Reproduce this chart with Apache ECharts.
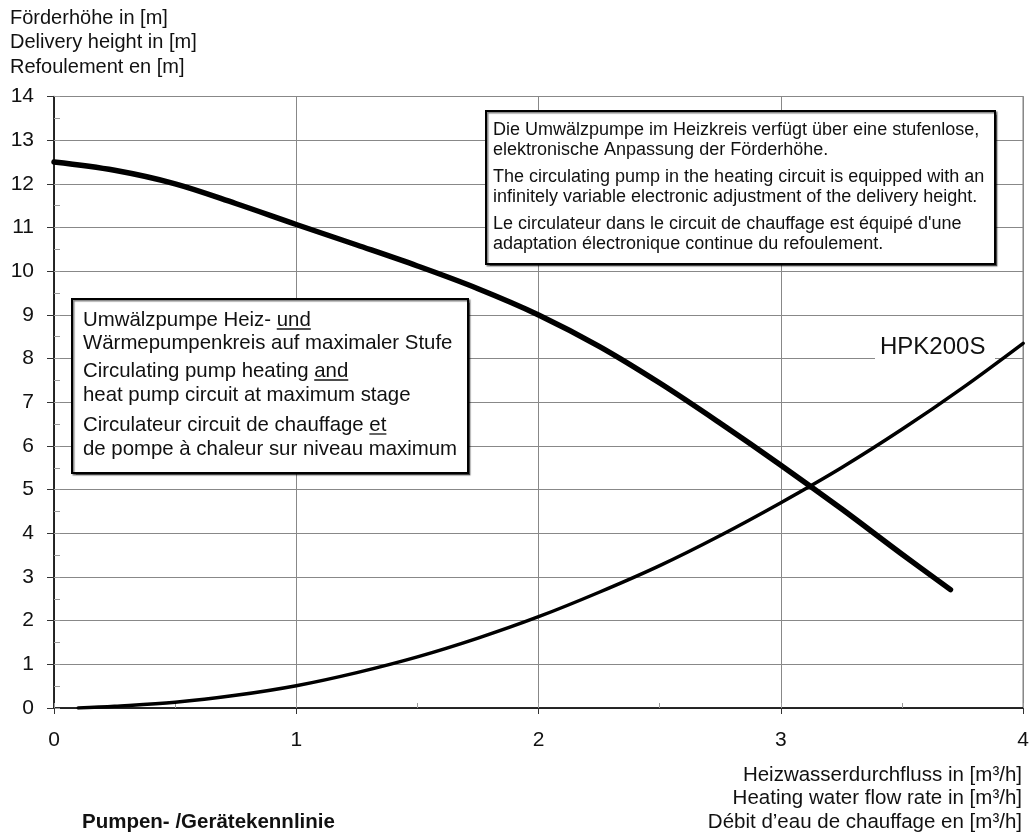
<!DOCTYPE html>
<html>
<head>
<meta charset="utf-8">
<title>Pumpen- /Gerätekennlinie HPK200S</title>
<script src="https://cdn.jsdelivr.net/npm/echarts@6/dist/echarts.min.js"></script>
<style>
  html, body { margin: 0; padding: 0; background: #fff; }
  #chart { width: 1032px; height: 836px; }
</style>
</head>
<body>
<div id="chart"></div>
<script>
// flow rate in m³/h, head in m
const flowTicks = [0, 1, 2, 3, 4];
const headTicks = [0, 1, 2, 3, 4, 5, 6, 7, 8, 9, 10, 11, 12, 13, 14];

// pump curve (thick line)
const pumpFlow = [0, 0.25, 0.5, 0.75, 1, 1.25, 1.5, 1.75, 2, 2.25, 2.5, 2.75, 3, 3.25, 3.5, 3.7];
const pumpHead = [12.5, 12.31, 12.0, 11.55, 11.07, 10.6, 10.12, 9.6, 9.0, 8.28, 7.44, 6.52, 5.56, 4.56, 3.52, 2.71];

// device curve HPK200S (thin line)
const deviceFlow = [0.1, 0.25, 0.5, 0.75, 1, 1.25, 1.5, 1.75, 2, 2.25, 2.5, 2.75, 3, 3.25, 3.5, 3.75, 4];
const deviceHead = [0, 0.04, 0.13, 0.29, 0.51, 0.81, 1.17, 1.6, 2.09, 2.65, 3.26, 3.95, 4.7, 5.5, 6.38, 7.33, 8.35];

const yTitle = ['Förderhöhe in [m]', 'Delivery height in [m]', 'Refoulement en [m]'];
const xTitle = ['Heizwasserdurchfluss in [m³/h]', 'Heating water flow rate in [m³/h]', 'Débit d’eau de chauffage en [m³/h]'];
const footLabel = 'Pumpen- /Gerätekennlinie';
const curveLabel = 'HPK200S';

const noteRight = [
  'Die Umwälzpumpe im Heizkreis verfügt über eine stufenlose,',
  'elektronische Anpassung der Förderhöhe.',
  'The circulating pump in the heating circuit is equipped with an',
  'infinitely variable electronic adjustment of the delivery height.',
  'Le circulateur dans le circuit de chauffage est équipé d\'une',
  'adaptation électronique continue du refoulement.'
];
// [text before underlined word, underlined word] or plain line
const noteLeft = [
  ['Umwälzpumpe Heiz- ', 'und'],
  ['Wärmepumpenkreis auf maximaler Stufe'],
  ['Circulating pump heating ', 'and'],
  ['heat pump circuit at maximum stage'],
  ['Circulateur circuit de chauffage ', 'et'],
  ['de pompe à chaleur sur niveau maximum']
];

const FONT = '"Liberation Sans", Arial, Helvetica, sans-serif';
const measure = document.createElement('canvas').getContext('2d');
function textWidth(str, size) {
  measure.font = size + 'px ' + FONT;
  return measure.measureText(str).width;
}

function zip(xs, ys) {
  return xs.map((x, i) => [x, ys[i]]);
}

const graphics = [];

// y axis title
yTitle.forEach((t, i) => {
  graphics.push({
    type: 'text', z: 100,
    style: { text: t, x: 10, y: 18 + i * 24.5, font: '20px ' + FONT, fill: '#111', verticalAlign: 'middle' }
  });
});

// x axis title
xTitle.forEach((t, i) => {
  graphics.push({
    type: 'text', z: 100,
    style: { text: t, x: 1022, y: 775 + i * 23.5, font: '20.5px ' + FONT, fill: '#111', textAlign: 'right', verticalAlign: 'middle' }
  });
});

graphics.push({
  type: 'text', z: 100,
  style: { text: footLabel, x: 82, y: 822, font: 'bold 20.5px ' + FONT, fill: '#111', verticalAlign: 'middle' }
});

// curve label with white patch over the gridline
graphics.push({
  type: 'rect', z: 90,
  shape: { x: 875, y: 334, width: 120, height: 28 },
  style: { fill: '#fff' }
});
graphics.push({
  type: 'text', z: 100,
  style: { text: curveLabel, x: 880, y: 347, font: '24px ' + FONT, fill: '#111', verticalAlign: 'middle' }
});

// right note box
graphics.push({
  type: 'rect', z: 95,
  shape: { x: 486, y: 111, width: 509, height: 153 },
  style: { fill: '#fff', stroke: '#000', lineWidth: 2, shadowColor: 'rgba(0,0,0,0.5)', shadowOffsetX: 1.5, shadowOffsetY: 1.5, shadowBlur: 1 }
});
const rightRows = [130, 150, 177, 197, 224, 244];
noteRight.forEach((t, i) => {
  graphics.push({
    type: 'text', z: 100,
    style: { text: t, x: 493, y: rightRows[i], font: '18px ' + FONT, fill: '#111', verticalAlign: 'middle' }
  });
});

// left note box
graphics.push({
  type: 'rect', z: 95,
  shape: { x: 72, y: 299, width: 396, height: 174 },
  style: { fill: '#fff', stroke: '#000', lineWidth: 2, shadowColor: 'rgba(0,0,0,0.5)', shadowOffsetX: 1.5, shadowOffsetY: 1.5, shadowBlur: 1 }
});
const leftRows = [320, 343.5, 371, 395, 425, 449];
const leftSize = 20.4;
noteLeft.forEach((row, i) => {
  const line = row.join('');
  graphics.push({
    type: 'text', z: 100,
    style: { text: line, x: 83, y: leftRows[i], font: leftSize + 'px ' + FONT, fill: '#111', verticalAlign: 'middle' }
  });
  if (row.length > 1) {
    const x0 = 83 + textWidth(row[0], leftSize);
    const x1 = x0 + textWidth(row[1], leftSize);
    graphics.push({
      type: 'line', z: 100,
      shape: { x1: x0, y1: leftRows[i] + 9, x2: x1, y2: leftRows[i] + 9 },
      style: { stroke: '#111', lineWidth: 1.3 }
    });
  }
});

const chart = echarts.init(document.getElementById('chart'), null, { renderer: 'canvas' });

chart.setOption({
  backgroundColor: '#fff',
  animation: false,
  textStyle: { fontFamily: FONT },
  grid: {
    left: 54, right: 5, top: 96.5, bottom: 128,
    show: true, borderColor: '#444', borderWidth: 1
  },
  xAxis: [
    {
      type: 'value', min: flowTicks[0], max: flowTicks[flowTicks.length - 1], interval: 1,
      position: 'bottom',
      axisLine: { show: true, lineStyle: { color: '#000', width: 1.5 } },
      axisTick: { show: true, inside: false, length: 6, lineStyle: { color: '#333' } },
      axisLabel: { fontSize: 21, color: '#111', margin: 22 },
      splitLine: { show: true, lineStyle: { color: '#888', width: 1 } }
    },
    {
      type: 'value', min: flowTicks[0], max: flowTicks[flowTicks.length - 1], interval: 0.5,
      position: 'bottom',
      axisLine: { show: false },
      axisTick: { show: true, inside: true, length: 5, lineStyle: { color: '#999' } },
      axisLabel: { show: false },
      splitLine: { show: false }
    }
  ],
  yAxis: [
    {
      type: 'value', min: headTicks[0], max: headTicks[headTicks.length - 1], interval: 1,
      position: 'left',
      axisLine: { show: true, lineStyle: { color: '#000', width: 1.5 } },
      axisTick: { show: true, inside: false, length: 7, lineStyle: { color: '#333' } },
      axisLabel: { fontSize: 21, color: '#111', margin: 20 },
      splitLine: { show: true, lineStyle: { color: '#888', width: 1 } }
    },
    {
      type: 'value', min: headTicks[0], max: headTicks[headTicks.length - 1], interval: 0.5,
      position: 'left',
      axisLine: { show: false },
      axisTick: { show: true, inside: true, length: 6, lineStyle: { color: '#999' } },
      axisLabel: { show: false },
      splitLine: { show: false }
    }
  ],
  series: [
    {
      name: 'Pumpe',
      type: 'line',
      xAxisIndex: 0, yAxisIndex: 0,
      data: zip(pumpFlow, pumpHead),
      smooth: 0.35,
      showSymbol: false,
      lineStyle: { color: '#000', width: 5.5, cap: 'round', join: 'round' }
    },
    {
      name: curveLabel,
      type: 'line',
      xAxisIndex: 0, yAxisIndex: 0,
      data: zip(deviceFlow, deviceHead),
      smooth: 0.35,
      showSymbol: false,
      lineStyle: { color: '#000', width: 3.5, cap: 'round', join: 'round' }
    }
  ],
  graphic: graphics
});
</script>
</body>
</html>
